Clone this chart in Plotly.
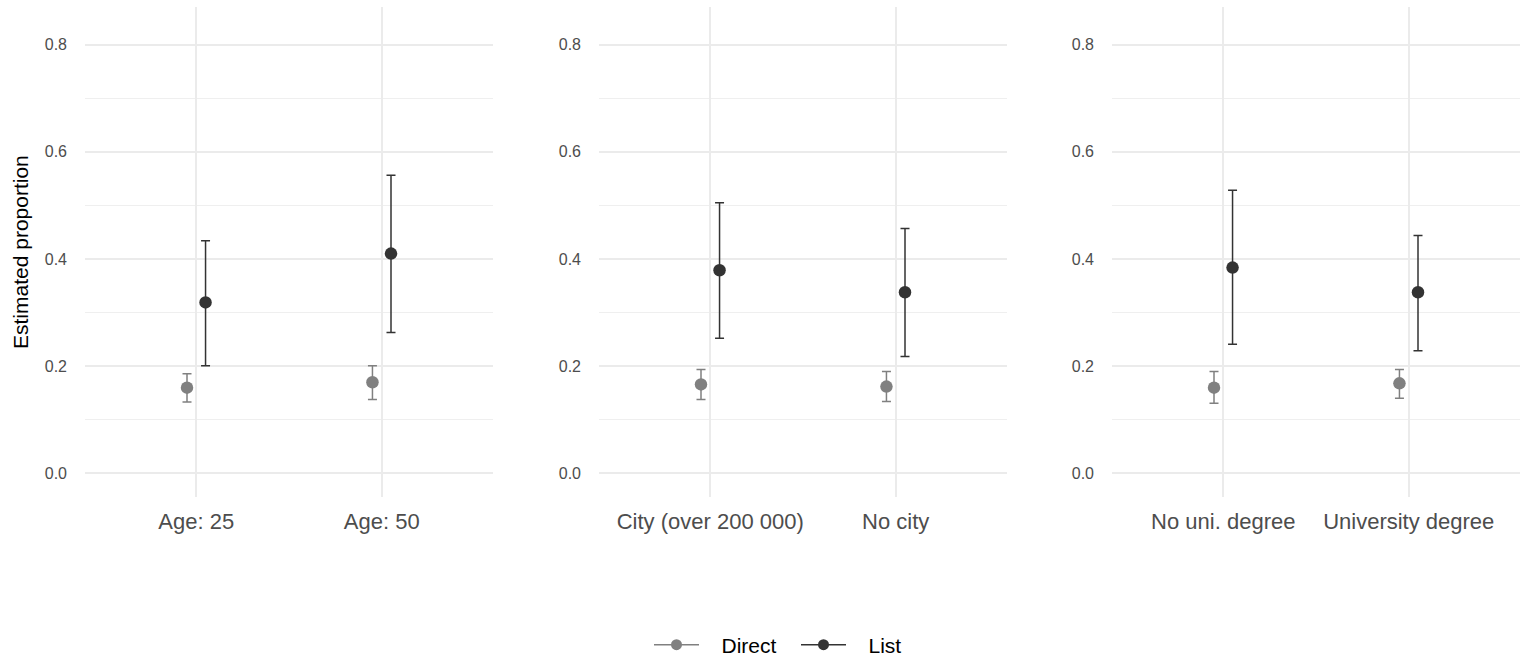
import plotly.graph_objects as go

# ---- data ----
panel1_cats = ["Age: 25", "Age: 50"]
panel2_cats = ["City (over 200 000)", "No city"]
panel3_cats = ["No uni. degree", "University degree"]

direct_est = [[0.160, 0.170], [0.166, 0.162], [0.160, 0.168]]
direct_lo = [[0.133, 0.138], [0.138, 0.134], [0.131, 0.140]]
direct_hi = [[0.186, 0.201], [0.194, 0.190], [0.190, 0.194]]

list_est = [[0.319, 0.410], [0.379, 0.338], [0.384, 0.338]]
list_lo = [[0.201, 0.263], [0.252, 0.218], [0.241, 0.229]]
list_hi = [[0.434, 0.556], [0.505, 0.457], [0.528, 0.444]]

y_ticks = [0.0, 0.2, 0.4, 0.6, 0.8]
series_names = ["Direct", "List"]

panels = [panel1_cats, panel2_cats, panel3_cats]

W, H = 1528, 662
x_px = [(85, 493), (599, 1007), (1112, 1520)]
y_top, y_bot = 7, 497

DIRECT_COL = "#808080"
LIST_COL = "#333333"
FONT = "Liberation Sans, Arial, sans-serif"
DODGE = 0.05

fig = go.Figure()

for p, cats in enumerate(panels):
    xa = "x" if p == 0 else f"x{p+1}"
    ya = "y" if p == 0 else f"y{p+1}"
    pos = list(range(1, len(cats) + 1))
    for est, lo, hi, col, off in [
        (direct_est[p], direct_lo[p], direct_hi[p], DIRECT_COL, -DODGE),
        (list_est[p], list_lo[p], list_hi[p], LIST_COL, DODGE),
    ]:
        fig.add_trace(go.Scatter(
            x=[v + off for v in pos], y=est, mode="markers",
            marker=dict(color=col, size=12.5, line=dict(width=0)),
            error_y=dict(type="data", symmetric=False,
                         array=[h - e for h, e in zip(hi, est)],
                         arrayminus=[e - l for e, l in zip(est, lo)],
                         color=col, thickness=1.5, width=4.5),
            xaxis=xa, yaxis=ya, showlegend=False, hoverinfo="skip",
        ))
    ax_x = dict(
        domain=[x_px[p][0] / W, x_px[p][1] / W], range=[0.4, len(cats) + 0.6],
        tickvals=pos, ticktext=cats, showgrid=True, gridcolor="#ebebeb",
        gridwidth=1.6, zeroline=False, showline=False, ticks="",
        tickfont=dict(family=FONT, size=22, color="#4d4d4d"),
        ticklabelstandoff=9, fixedrange=True,
    )
    ax_y = dict(
        domain=[1 - y_bot / H, 1 - y_top / H], range=[-0.044, 0.870],
        tickvals=y_ticks, tickformat=".1f", showgrid=True, gridcolor="#ebebeb",
        gridwidth=1.6, zeroline=False, showline=False, ticks="",
        minor=dict(dtick=0.1, tick0=0.1, showgrid=True, gridcolor="#efefef", gridwidth=0.9),
        tickfont=dict(family=FONT, size=16, color="#4d4d4d"),
        ticklabelstandoff=17, anchor=xa, fixedrange=True,
    )
    fig.update_layout(**{("xaxis" if p == 0 else f"xaxis{p+1}"): dict(ax_x, anchor=ya),
                         ("yaxis" if p == 0 else f"yaxis{p+1}"): ax_y})

# legend entries
NB = "\u00a0" * 3
for name, col in zip(series_names, [DIRECT_COL, LIST_COL]):
    fig.add_trace(go.Scatter(
        x=[None], y=[None], mode="lines+markers", name=NB + name,
        marker=dict(color=col, size=11), line=dict(color=col, width=1.5),
        showlegend=True,
    ))

fig.add_annotation(
    text="Estimated proportion", textangle=-90, x=21 / W, y=1 - ((y_top + y_bot) / 2) / H,
    xref="paper", yref="paper", xanchor="center", yanchor="middle", showarrow=False,
    font=dict(family=FONT, size=21, color="black"),
)

fig.update_layout(
    width=W, height=H, margin=dict(l=0, r=0, t=0, b=0, autoexpand=False),
    paper_bgcolor="white", plot_bgcolor="white",
    font=dict(family=FONT),
    legend=dict(orientation="h", x=796 / W, xanchor="center",
                y=1 - 645 / H, yanchor="middle",
                font=dict(family=FONT, size=21, color="black"), itemwidth=45,
                entrywidth=87, entrywidthmode="pixels"),
)

fig.write_html("out.html")
